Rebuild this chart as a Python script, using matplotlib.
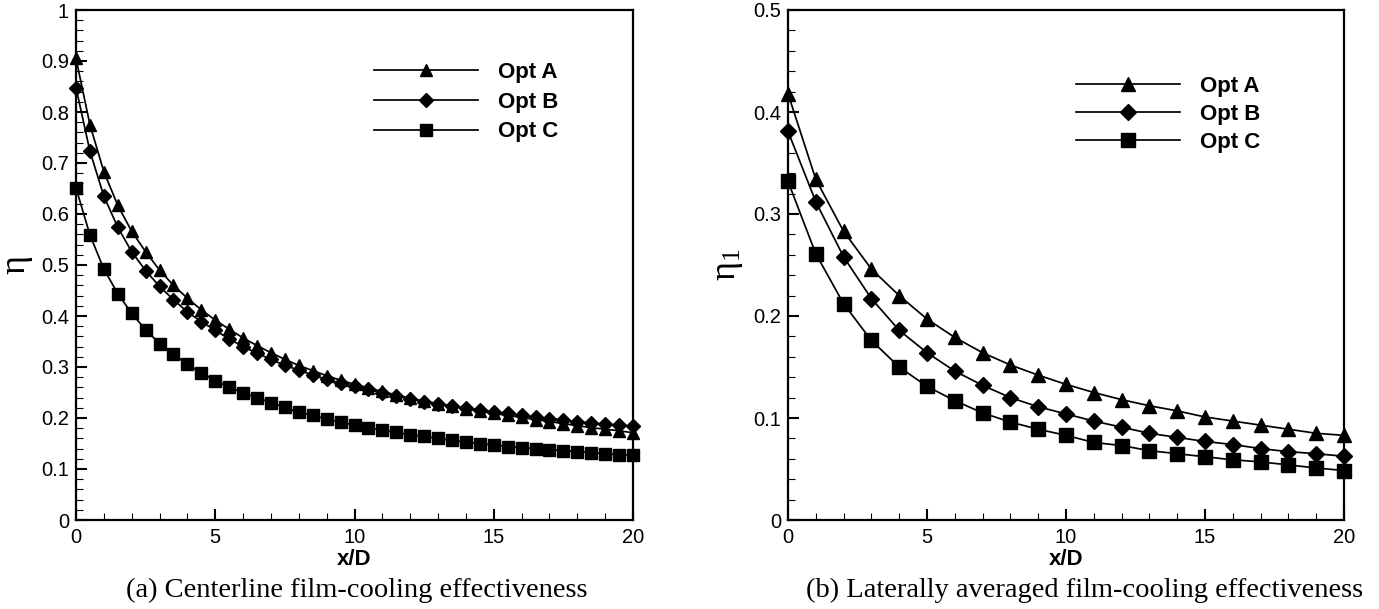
import numpy as np
import matplotlib
matplotlib.use('Agg')
import matplotlib.pyplot as plt
from matplotlib.ticker import MultipleLocator, FormatStrFormatter

plt.rcParams['font.family'] = ['Liberation Sans', 'DejaVu Sans']
plt.rcParams['mathtext.fontset'] = 'custom'
plt.rcParams['mathtext.rm'] = 'Liberation Serif'
plt.rcParams['mathtext.it'] = 'Liberation Serif'

# (a) centerline effectiveness, x/D every 0.5
x_center = np.arange(0, 20.5, 0.5)
center_a = [0.905, 0.775, 0.683, 0.617, 0.566, 0.526, 0.490, 0.460, 0.435, 0.412,
            0.392, 0.374, 0.357, 0.342, 0.328, 0.315, 0.303, 0.293, 0.283, 0.274,
            0.266, 0.259, 0.252, 0.245, 0.239, 0.233, 0.228, 0.223, 0.218, 0.213,
            0.209, 0.205, 0.201, 0.197, 0.193, 0.189, 0.185, 0.181, 0.178, 0.175, 0.171]
center_b = [0.848, 0.723, 0.635, 0.574, 0.526, 0.489, 0.458, 0.432, 0.408, 0.389,
            0.372, 0.355, 0.340, 0.327, 0.315, 0.303, 0.294, 0.284, 0.276, 0.268,
            0.262, 0.256, 0.249, 0.243, 0.238, 0.232, 0.227, 0.223, 0.220, 0.216,
            0.212, 0.209, 0.205, 0.202, 0.199, 0.196, 0.193, 0.190, 0.188, 0.186, 0.184]
center_c = [0.651, 0.559, 0.492, 0.444, 0.405, 0.373, 0.346, 0.325, 0.305, 0.289,
            0.273, 0.261, 0.249, 0.240, 0.230, 0.221, 0.211, 0.205, 0.198, 0.192,
            0.186, 0.181, 0.176, 0.172, 0.167, 0.164, 0.160, 0.156, 0.153, 0.150,
            0.147, 0.144, 0.142, 0.140, 0.138, 0.136, 0.134, 0.132, 0.130, 0.128, 0.127]

# (b) laterally averaged effectiveness, x/D every 1
x_lat = np.arange(0, 21, 1)
lat_a = [0.418, 0.334, 0.283, 0.246, 0.220, 0.197, 0.179, 0.164, 0.152, 0.142, 0.133,
         0.125, 0.118, 0.112, 0.107, 0.101, 0.097, 0.093, 0.089, 0.085, 0.083]
lat_b = [0.381, 0.312, 0.258, 0.217, 0.186, 0.164, 0.146, 0.132, 0.120, 0.111, 0.104,
         0.097, 0.091, 0.085, 0.081, 0.077, 0.074, 0.070, 0.067, 0.065, 0.0625]
lat_c = [0.332, 0.261, 0.212, 0.176, 0.150, 0.131, 0.117, 0.105, 0.096, 0.089, 0.083,
         0.076, 0.073, 0.068, 0.065, 0.062, 0.059, 0.057, 0.054, 0.051, 0.0485]

labels = ['Opt A', 'Opt B', 'Opt C']
markers = ['^', 'D', 's']

fig = plt.figure(figsize=(13.79, 6.09), dpi=100)
W, H = 1379, 609

ax1 = fig.add_axes([76 / W, 1 - 520 / H, 557 / W, 510 / H])
ax2 = fig.add_axes([788 / W, 1 - 520 / H, 556 / W, 510 / H])


def style_axes(ax, ymax, ymajor):
    ax.set_xlim(0, 20)
    ax.set_ylim(0, ymax)
    ax.xaxis.set_major_locator(MultipleLocator(5))
    ax.xaxis.set_minor_locator(MultipleLocator(1))
    ax.yaxis.set_major_locator(MultipleLocator(ymajor))
    ax.yaxis.set_minor_locator(MultipleLocator(ymajor / 5))
    ax.yaxis.set_major_formatter(FormatStrFormatter('%g'))
    ax.xaxis.set_major_formatter(FormatStrFormatter('%g'))
    ax.tick_params(which='both', direction='in', top=False, right=False, labelsize=14.5)
    ax.tick_params(which='major', length=8, width=1.5)
    ax.tick_params(which='minor', length=5, width=0.8)
    ax.tick_params(axis='x', pad=6)
    ax.tick_params(axis='y', pad=5)
    for s in ax.spines.values():
        s.set_linewidth(1.6)
    ax.set_xlabel('x/D', fontsize=16, fontweight='bold', labelpad=1)


# left panel
for y, lab, m in zip([center_a, center_b, center_c], labels, markers):
    ms = 7.0 if m == 'D' else 8.0
    ax1.plot(x_center, y, color='black', lw=1.25, marker=m, ms=ms, label=lab, clip_on=False)
style_axes(ax1, 1.0, 0.1)
ax1.set_ylabel('η', fontsize=26, family='Liberation Serif', labelpad=6)
ax1.legend(loc='upper left', bbox_to_anchor=(0.535, 0.898), frameon=False,
           prop={'weight': 'bold', 'size': 16}, handlelength=4.7,
           handletextpad=0.86, labelspacing=0.39, borderpad=0, borderaxespad=0)

# right panel
for y, lab, m in zip([lat_a, lat_b, lat_c], labels, markers):
    ms = 8.5 if m == 'D' else 10
    ax2.plot(x_lat, y, color='black', lw=1.25, marker=m, ms=ms, label=lab, clip_on=False)
style_axes(ax2, 0.5, 0.1)
ax2.set_ylabel(r'$\mathrm{\eta}_\mathrm{1}$', fontsize=26, labelpad=6)
ax2.legend(loc='upper left', bbox_to_anchor=(0.518, 0.871), frameon=False,
           prop={'weight': 'bold', 'size': 16}, handlelength=4.7,
           handletextpad=0.86, labelspacing=0.31, borderpad=0, borderaxespad=0)

# captions under each panel
fig.text(357 / W, 1 - 590 / H, '(a) Centerline film-cooling effectiveness',
         ha='center', va='center', fontsize=20.5, family='Liberation Serif')
fig.text(1085 / W, 1 - 590 / H, '(b) Laterally averaged film-cooling effectiveness',
         ha='center', va='center', fontsize=20.5, family='Liberation Serif')

fig.savefig('out.png', dpi=100)
